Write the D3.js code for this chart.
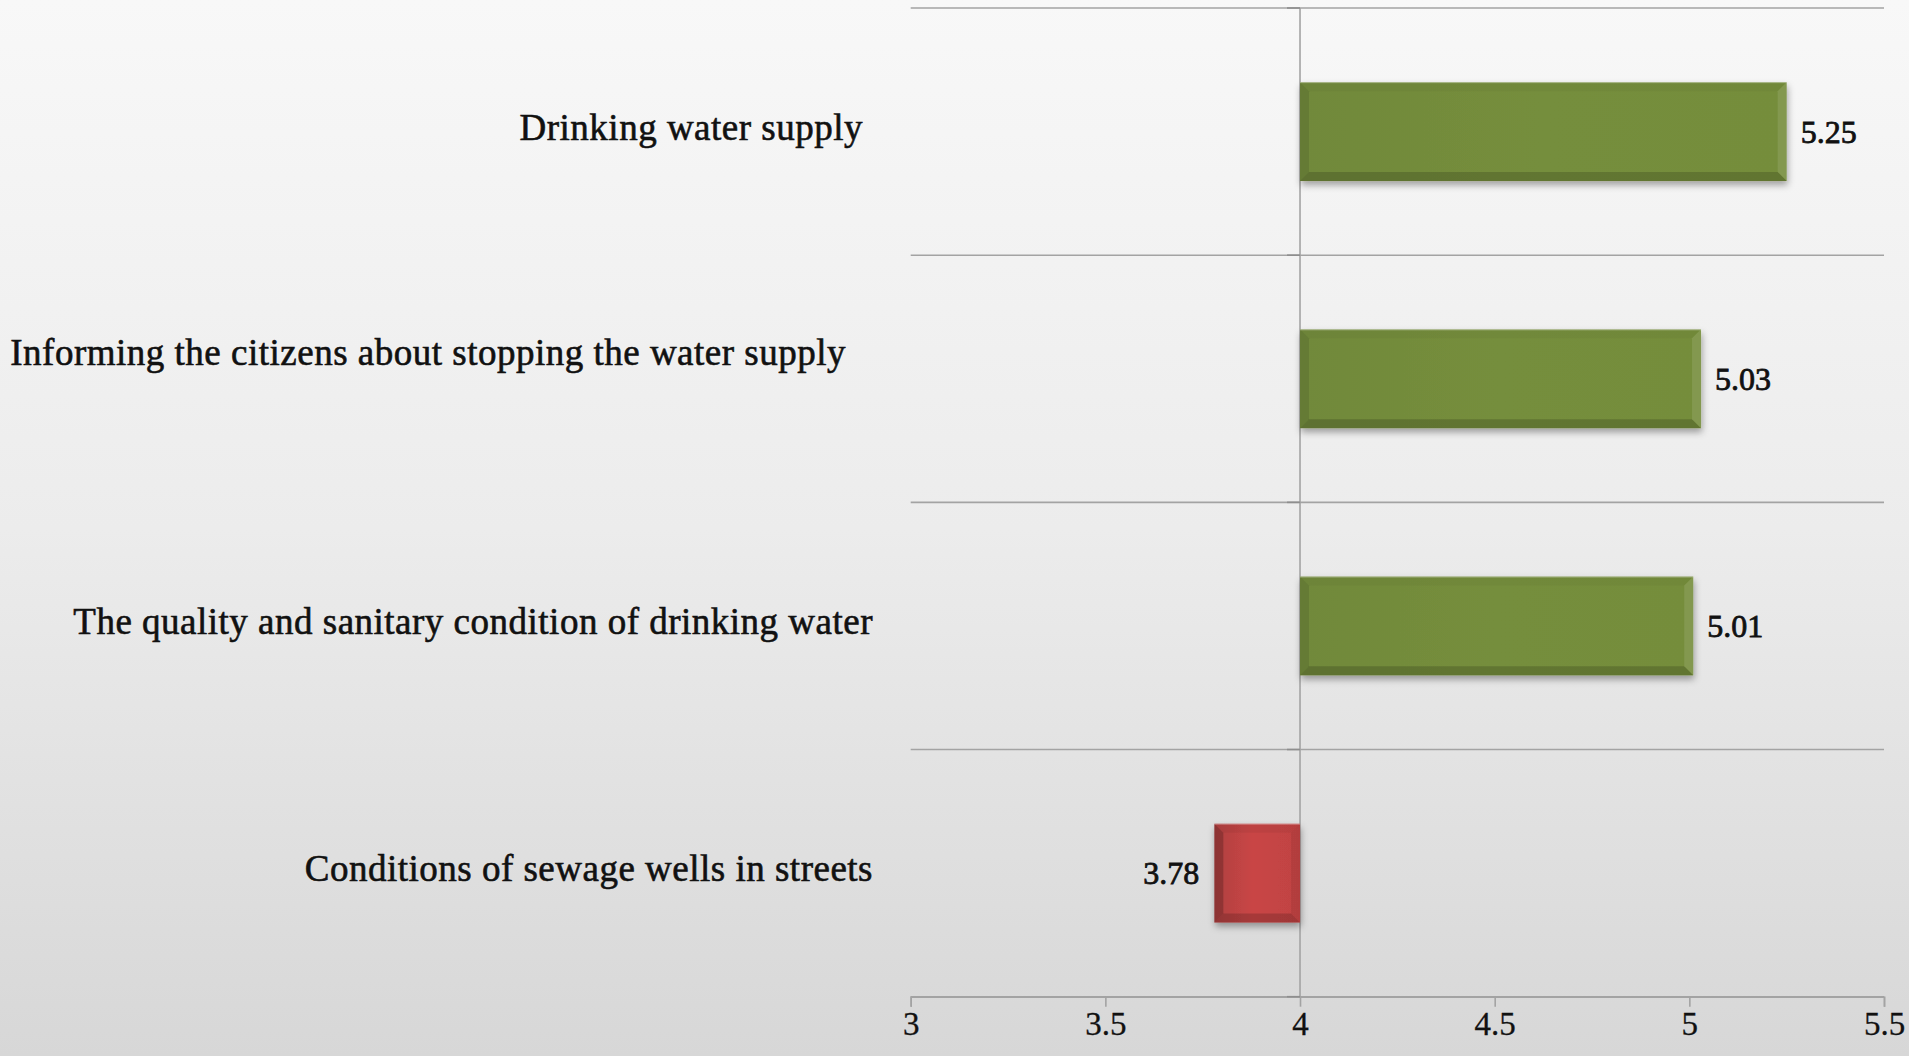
<!DOCTYPE html>
<html>
<head>
<meta charset="utf-8">
<script src="https://cdn.jsdelivr.net/npm/d3@7"></script>
<style>
  html, body { margin: 0; padding: 0; }
  body { width: 1909px; height: 1056px; overflow: hidden; }
  svg { display: block; }
</style>
</head>
<body>
<svg id="chart" width="1909" height="1056"></svg>
<script>
// ---- data ----
const categories = [
  "Drinking water supply",
  "Informing the citizens about stopping the water supply",
  "The quality and sanitary condition of drinking water",
  "Conditions of sewage wells in streets"
];
const values = [5.25, 5.03, 5.01, 3.78];
const xTicks = [3, 3.5, 4, 4.5, 5, 5.5];
const xDomain = [3, 5.5];
const crossValue = 4;

// ---- layout (not data) ----
const W = 1909, H = 1056;
const plot = { left: 910.7, right: 1884, top: 8, bottom: 996.7 };
const labelRight = 873;
const labelNudgeX = [-10, -27, 0, 0];
const labelNudgeY = [0, -22, 0, 0];
const serif = "'Liberation Serif', 'Times New Roman', serif";

const svg = d3.select("#chart");
const defs = svg.append("defs");

const bg = defs.append("linearGradient").attr("id", "bg")
  .attr("x1", 0).attr("y1", 0).attr("x2", 0).attr("y2", 1);
bg.append("stop").attr("offset", "0%").attr("stop-color", "#f8f8f8");
bg.append("stop").attr("offset", "50%").attr("stop-color", "#ececec");
bg.append("stop").attr("offset", "100%").attr("stop-color", "#d7d7d7");

const gGreen = defs.append("linearGradient").attr("id", "gGreen")
  .attr("x1", 0).attr("y1", 0).attr("x2", 1).attr("y2", 0);
gGreen.append("stop").attr("offset", "0%").attr("stop-color", "#71893a");
gGreen.append("stop").attr("offset", "50%").attr("stop-color", "#758e3c");
gGreen.append("stop").attr("offset", "100%").attr("stop-color", "#748d3b");

const gRed = defs.append("linearGradient").attr("id", "gRed")
  .attr("x1", 0).attr("y1", 0).attr("x2", 1).attr("y2", 0);
gRed.append("stop").attr("offset", "0%").attr("stop-color", "#b04141");
gRed.append("stop").attr("offset", "45%").attr("stop-color", "#c94545");
gRed.append("stop").attr("offset", "100%").attr("stop-color", "#c04343");

const shadow = defs.append("filter").attr("id", "shadow")
  .attr("x", "-10%").attr("y", "-20%").attr("width", "120%").attr("height", "150%");
shadow.append("feDropShadow").attr("dx", 1).attr("dy", 4).attr("stdDeviation", 3.5)
  .attr("flood-color", "#000").attr("flood-opacity", 0.35);

svg.append("rect").attr("width", W).attr("height", H).attr("fill", "url(#bg)");

const x = d3.scaleLinear().domain(xDomain).range([plot.left, plot.right]);
const y = d3.scaleBand().domain(categories).range([plot.top, plot.bottom])
  .paddingInner(0.6).paddingOuter(0.3);
const step = y.step();

const gridColor = "#a3a3a3";

// horizontal gridlines at category boundaries
const boundaries = d3.range(categories.length + 1).map(i => plot.top + i * step);
svg.append("g").selectAll("line").data(boundaries).join("line")
  .attr("x1", plot.left).attr("x2", plot.right)
  .attr("y1", d => d).attr("y2", d => d)
  .attr("stroke", gridColor).attr("stroke-width", 1.6);

// x axis
const xAxis = d3.axisBottom(x).tickValues(xTicks).tickSize(10).tickPadding(8)
  .tickFormat(d3.format("~g"));
const gx = svg.append("g").attr("transform", `translate(0,${plot.bottom})`).call(xAxis);
gx.select(".domain").attr("stroke", gridColor).attr("stroke-width", 1.6);
gx.selectAll(".tick line").attr("stroke", gridColor).attr("stroke-width", 1.6);
gx.selectAll(".tick text")
  .attr("font-family", serif)
  .attr("font-size", 33).attr("fill", "#111").attr("dy", "0.62em")
  .attr("stroke", "#111").attr("stroke-width", 0.3);

// vertical category axis at crossValue
svg.append("line")
  .attr("x1", x(crossValue)).attr("x2", x(crossValue))
  .attr("y1", plot.top).attr("y2", plot.bottom)
  .attr("stroke", gridColor).attr("stroke-width", 1.6);
svg.append("g").selectAll("line").data(boundaries).join("line")
  .attr("x1", x(crossValue) - 13).attr("x2", x(crossValue))
  .attr("y1", d => d).attr("y2", d => d)
  .attr("stroke", "#8e8e8e").attr("stroke-width", 1.6);

// bars
const bars = svg.append("g").selectAll("g").data(categories).join("g");
bars.each(function(c, i) {
  const v = values[i];
  const pos = v >= crossValue;
  const x0 = Math.min(x(v), x(crossValue));
  const x1 = Math.max(x(v), x(crossValue));
  const y0 = y(c), y1 = y(c) + y.bandwidth();
  const g = d3.select(this);
  const b = 9;
  g.append("rect")
    .attr("x", x0).attr("y", y0).attr("width", x1 - x0).attr("height", y1 - y0)
    .attr("fill", pos ? "url(#gGreen)" : "url(#gRed)")
    .attr("filter", "url(#shadow)");
  const bevels = [
    { pts: [[x0, y0], [x1, y0], [x1 - b, y0 + b], [x0 + b, y0 + b]], fill: "#000", op: pos ? 0.03 : 0.05 },
    { pts: [[x0, y1], [x1, y1], [x1 - b, y1 - b], [x0 + b, y1 - b]], fill: "#000", op: 0.17 },
    { pts: [[x0, y0], [x0 + b, y0 + b], [x0 + b, y1 - b], [x0, y1]], fill: "#000", op: pos ? 0.1 : 0.2 },
    { pts: [[x1, y0], [x1 - b, y0 + b], [x1 - b, y1 - b], [x1, y1]], fill: pos ? "#fff" : "#000", op: pos ? 0.1 : 0.07 }
  ];
  bevels.forEach(bv => {
    g.append("polygon").attr("points", bv.pts.map(p => p.join(",")).join(" "))
      .attr("fill", bv.fill).attr("fill-opacity", bv.op);
  });
  g.append("line").attr("x1", x0).attr("x2", x1).attr("y1", y0 + 0.5).attr("y2", y0 + 0.5)
    .attr("stroke", "#fff").attr("stroke-opacity", 0.35).attr("stroke-width", 1);
});

// value labels
svg.append("g").selectAll("text").data(categories).join("text")
  .attr("x", (c, i) => values[i] >= crossValue ? x(values[i]) + 14 : x(values[i]) - 15)
  .attr("y", c => y(c) + y.bandwidth() / 2 + 11)
  .attr("text-anchor", (c, i) => values[i] >= crossValue ? "start" : "end")
  .attr("font-family", serif)
  .attr("font-size", 32).attr("fill", "#111")
  .attr("stroke", "#111").attr("stroke-width", 0.8)
  .text((c, i) => d3.format(".2f")(values[i]));

// category labels
svg.append("g").selectAll("text").data(categories).join("text")
  .attr("x", (c, i) => labelRight + labelNudgeX[i])
  .attr("y", (c, i) => y(c) + y.bandwidth() / 2 + 8 + labelNudgeY[i])
  .attr("text-anchor", "end")
  .attr("font-family", serif)
  .attr("font-size", 37).attr("letter-spacing", "0.5px").attr("fill", "#111")
  .attr("stroke", "#111").attr("stroke-width", 0.6)
  .text(c => c);
</script>
</body>
</html>
